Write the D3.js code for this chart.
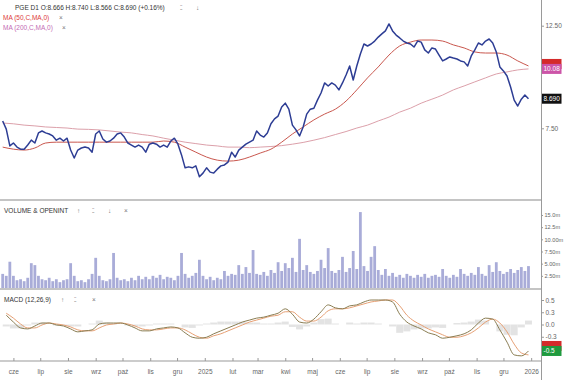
<!DOCTYPE html>
<html><head><meta charset="utf-8">
<script src="https://cdn.jsdelivr.net/npm/d3@7"></script>
<style>
html,body{margin:0;padding:0;background:#fff;}
svg{display:block;font-family:"Liberation Sans",Arial,sans-serif;}
</style></head><body>
<svg id="c" width="564" height="380"></svg>
<script>
// ---------- data ----------
const priceStart = "2024-05-20", priceStepDays = 4;
const priceClose = [7.78,7.47,6.87,6.97,6.83,6.76,6.76,6.90,7.07,6.97,
7.33,7.40,7.33,7.29,7.22,7.07,7.14,7.04,7.14,6.73,
6.47,6.73,6.80,6.83,6.80,6.66,7.29,7.40,7.11,7.00,
7.04,7.14,7.29,7.33,7.18,6.97,6.90,6.83,6.90,6.83,
6.66,6.93,6.97,6.93,6.83,6.90,6.83,7.04,7.14,6.93,
6.57,6.16,6.19,6.16,6.22,5.89,6.00,6.16,6.03,6.00,
6.12,6.22,6.25,6.34,6.66,6.50,6.73,6.83,6.93,7.00,
7.07,7.40,7.25,7.18,7.33,7.67,7.86,7.97,8.34,8.50,
8.25,7.62,7.44,7.22,7.55,8.05,8.25,8.29,8.63,8.94,
9.40,9.26,9.40,9.30,9.08,9.40,9.78,10.23,9.54,10.23,
10.86,11.41,11.30,11.41,11.58,11.81,12.00,12.18,12.61,12.18,
11.93,11.76,11.58,11.47,11.41,11.24,11.58,11.52,11.08,10.91,
11.19,11.13,10.80,10.49,10.59,10.70,10.64,10.59,10.49,10.44,
10.23,10.75,11.08,11.47,11.36,11.58,11.70,11.47,10.97,10.18,
9.98,9.73,9.21,8.63,8.38,8.67,8.85,8.69];
const volume = [2.9,2.5,5.4,2.5,1.6,1.8,1.4,2.1,5.1,4.7,
2.5,1.8,1.6,2.1,1.4,1.8,1.2,1.6,1.8,5.1,
2.5,1.4,1.6,1.2,1.8,2.9,6.2,2.5,1.6,1.4,
1.8,7.2,2.1,1.6,1.8,1.4,2.1,1.6,2.5,1.8,
2.3,1.8,2.5,2.1,2.7,1.8,2.3,2.1,1.6,2.5,
7.2,2.9,2.1,2.5,3.1,5.8,2.5,1.8,2.3,1.6,
2.1,1.8,3.5,2.5,2.9,2.7,4.7,2.9,4.3,3.1,
7.8,2.9,2.7,3.3,2.5,3.7,3.1,5.3,3.5,5.1,
4.1,6.2,3.3,10.1,3.7,4.7,3.3,2.9,3.5,5.8,
4.1,8.2,3.5,3.1,3.7,6.4,3.3,4.1,7.6,3.9,
15.6,4.5,3.5,6.4,8.6,3.7,2.7,3.9,2.5,3.1,
2.3,2.7,2.1,2.9,2.5,2.1,2.7,2.3,2.9,2.1,
2.5,2.7,2.3,3.9,2.5,2.1,2.7,2.3,3.9,2.9,
2.5,3.1,2.7,4.3,2.9,2.5,4.7,3.3,5.3,3.5,
2.9,3.3,3.9,3.1,3.7,4.3,3.5,4.5];
const maStart = "2024-05-20", maStepDays = 12;
const ma50 = [6.83,6.76,6.73,6.80,6.97,7.00,7.00,7.00,7.00,7.00,
7.00,7.00,7.00,7.00,7.00,7.04,7.00,6.83,6.66,6.50,
6.40,6.37,6.40,6.50,6.63,6.76,7.00,7.29,7.55,7.82,
8.05,8.25,8.59,9.08,9.64,10.18,10.80,11.30,11.52,11.64,
11.64,11.58,11.36,11.19,10.97,10.91,10.91,10.80,10.49,10.23];
const ma200 = [7.70,7.67,7.62,7.59,7.55,7.53,7.51,7.47,7.46,7.44,
7.40,7.36,7.33,7.27,7.22,7.14,7.07,7.00,6.95,6.90,
6.87,6.83,6.83,6.81,6.83,6.85,6.88,6.93,6.99,7.07,
7.16,7.27,7.38,7.51,7.62,7.78,7.93,8.13,8.29,8.50,
8.67,8.85,9.08,9.26,9.45,9.64,9.83,9.93,10.03,10.08];
const macdStart = "2024-05-24", macdStepDays = 8;
const macdLine = [0.19,0.05,-0.07,-0.09,-0.03,0.03,0.03,-0.01,-0.03,-0.09,
-0.15,-0.13,-0.11,0.01,0.03,0.03,0.03,-0.01,-0.07,-0.13,
-0.13,-0.09,-0.07,-0.05,-0.07,-0.17,-0.26,-0.28,-0.26,-0.19,
-0.13,-0.07,-0.01,0.05,0.09,0.13,0.15,0.19,0.23,0.32,
0.21,0.05,0.03,0.11,0.26,0.40,0.34,0.32,0.38,0.40,
0.46,0.50,0.50,0.50,0.46,0.21,0.05,-0.03,-0.09,-0.17,
-0.21,-0.28,-0.26,-0.23,-0.19,-0.11,0.03,0.13,0.11,-0.11,
-0.36,-0.62,-0.64,-0.54];
const macdSignal = [0.23,0.13,0.01,-0.07,-0.07,-0.01,0.03,0.01,-0.01,-0.05,
-0.11,-0.13,-0.13,-0.07,-0.01,0.01,0.03,0.01,-0.03,-0.09,
-0.11,-0.11,-0.09,-0.07,-0.07,-0.11,-0.19,-0.26,-0.28,-0.23,
-0.19,-0.13,-0.07,-0.01,0.05,0.09,0.13,0.17,0.19,0.26,
0.26,0.15,0.07,0.07,0.15,0.28,0.32,0.32,0.34,0.38,
0.42,0.46,0.48,0.50,0.50,0.38,0.19,0.07,-0.01,-0.09,
-0.15,-0.21,-0.26,-0.26,-0.23,-0.17,-0.07,0.05,0.11,0.03,
-0.15,-0.40,-0.58,-0.62];
const priceTicks = [7.5, 12.5];
const volumeTicks = [2.5, 5, 7.5, 10, 12.5, 15];
const volumeTickLabels = ["2.50m","5.00m","7.50m","10.00m","12.5m","15.0m"];
const macdTicks = [-0.25, 0, 0.25, 0.5];
const monthTicks = ["2024-06-01","2024-07-01","2024-08-01","2024-09-01","2024-10-01","2024-11-01","2024-12-01",
"2025-01-01","2025-02-01","2025-03-01","2025-04-01","2025-05-01","2025-06-01","2025-07-01","2025-08-01",
"2025-09-01","2025-10-01","2025-11-01","2025-12-01","2026-01-01"];
const monthLabels = ["cze","lip","sie","wrz","paź","lis","gru","2025","lut","mar","kwi","maj","cze","lip","sie","wrz","paź","lis","gru","2026"];
const ohlc = {O:8.666, H:8.740, L:8.566, chg:0.16};

// ---------- setup ----------
const plotR = 541;
const parse = d3.utcParse("%Y-%m-%d");
const grid = (start, step, n) => d3.range(n).map(i => d3.utcDay.offset(parse(start), i * step));
const pDates = grid(priceStart, priceStepDays, priceClose.length);
const mDates = grid(maStart, maStepDays, ma50.length);
const cDates = grid(macdStart, macdStepDays, macdLine.length);

const x = d3.scaleUtc().domain([parse("2024-05-17"), parse("2026-01-12")]).range([0, plotR]);
const yP = d3.scaleLog().domain([7.5, 12.5]).range([128.3, 25.7]);
const yV = d3.scaleLinear().domain([0, 15]).range([288, 215]);
const yM = d3.scaleLinear().domain([-0.5, 0.5]).range([349, 300]);

const svg = d3.select("#c");
const defs = svg.append("defs");
function clip(id, x0, y0, w, h){ defs.append("clipPath").attr("id", id).append("rect").attr("x",x0).attr("y",y0).attr("width",w).attr("height",h); }
clip("cMain", 0, 0, plotR, 199); clip("cVol", 0, 202, plotR, 86); clip("cMacd", 0, 290, plotR, 70); clip("cX", 0, 350, plotR, 30);

const FS = 6.5, axCol = "#666";

// separators and axis line
svg.append("line").attr("x1",0).attr("x2",plotR).attr("y1",200).attr("y2",200).attr("stroke","#c4c4c4").attr("stroke-width",2);
svg.append("line").attr("x1",0).attr("x2",plotR).attr("y1",289).attr("y2",289).attr("stroke","#c4c4c4").attr("stroke-width",2);
svg.append("line").attr("x1",plotR+0.5).attr("x2",plotR+0.5).attr("y1",0).attr("y2",380).attr("stroke","#9a9a9a").attr("stroke-width",1);

// ---------- main panel ----------
const gMain = svg.append("g").attr("clip-path","url(#cMain)");
const lineP = d3.line().x((d,i)=>x(pDates[i])).y(d=>yP(d));
const lineM = d3.line().x((d,i)=>x(mDates[i])).y(d=>yP(d)).curve(d3.curveMonotoneX);
gMain.append("path").datum(ma200).attr("d",lineM).attr("fill","none").attr("stroke","#dca0aa").attr("stroke-width",1);
gMain.append("path").datum(ma50).attr("d",lineM).attr("fill","none").attr("stroke","#c9574e").attr("stroke-width",1);
gMain.append("path").datum(priceClose).attr("d",lineP).attr("fill","none").attr("stroke","#2d3d94").attr("stroke-width",1.5).attr("stroke-linejoin","round");

function rightAxis(scale, ticks, fmt, fs, ts){
  const g = svg.append("g").attr("transform",`translate(${plotR},0)`)
    .call(d3.axisRight(scale).tickValues(ticks).tickSize(ts || 3).tickPadding(1.5).tickFormat(fmt));
  g.select(".domain").remove();
  g.selectAll("line").attr("stroke","#999");
  g.selectAll("text").attr("font-size",fs || FS).attr("fill",axCol).attr("font-family","Liberation Sans, Arial");
  return g;
}
rightAxis(yP, priceTicks, d3.format(".2f"));

function valueBox(y, col, txt){
  svg.append("rect").attr("x",plotR+1).attr("y",y-5).attr("width",19.5).attr("height",10).attr("fill",col);
  if (txt) svg.append("text").attr("x",plotR+2.5).attr("y",y+2.3).attr("font-size",FS).attr("fill","#fff").text(txt);
}
valueBox(yP(ma50[ma50.length-1]) - 2, "#d42a2a", "");
valueBox(yP(ma200[ma200.length-1]), "#cc55a8", d3.format(".2f")(ma200[ma200.length-1]));
const lastC = priceClose[priceClose.length-1];
valueBox(yP(lastC), "#111", d3.format(".3f")(lastC));

// header texts
const hdr = svg.append("g").attr("font-size",FS).attr("fill","#333");
hdr.append("text").attr("x",15).attr("y",9.5)
  .text(`PGE D1  O:${ohlc.O.toFixed(3)} H:${ohlc.H.toFixed(3)} L:${ohlc.L.toFixed(3)} C:${lastC.toFixed(3)} (+${ohlc.chg.toFixed(2)}%)`);
hdr.append("text").attr("x",180).attr("y",9.5).attr("fill","#777").text("⁚⁚");
hdr.append("text").attr("x",196).attr("y",9.5).attr("fill","#777").text("↓");
hdr.append("text").attr("x",3).attr("y",19.5).attr("fill","#dd3b3b").text("MA (50,C,MA,0)");
hdr.append("text").attr("x",59).attr("y",19.5).attr("fill","#777").text("×");
hdr.append("text").attr("x",3).attr("y",29.5).attr("fill","#c46bb4").text("MA (200,C,MA,0)");
hdr.append("text").attr("x",62).attr("y",29.5).attr("fill","#777").text("×");

// ---------- volume ----------
const gVol = svg.append("g").attr("clip-path","url(#cVol)");
gVol.selectAll("rect").data(volume).join("rect")
  .attr("x",(d,i)=>x(pDates[i])-1.4).attr("width",2.8)
  .attr("y",d=>yV(d)).attr("height",d=>yV.range()[0]-yV(d))
  .attr("fill","#a9acd8");
rightAxis(yV, volumeTicks, (d,i)=>volumeTickLabels[i], 5.6, 2);
hdr.append("text").attr("x",4).attr("y",212.5).text("VOLUME & OPENINT");
hdr.append("text").attr("x",77).attr("y",212.5).attr("fill","#777").text("↑");
hdr.append("text").attr("x",92).attr("y",212.5).attr("fill","#777").text("⁚⁚");
hdr.append("text").attr("x",108).attr("y",212.5).attr("fill","#777").text("↓");
hdr.append("text").attr("x",124).attr("y",212.5).attr("fill","#777").text("×");

// ---------- MACD ----------
const gM = svg.append("g").attr("clip-path","url(#cMacd)");
const hist = macdLine.map((d,i)=>d - macdSignal[i]);
gM.selectAll("rect").data(hist).join("rect")
  .attr("x",(d,i)=>x(cDates[i])-3.5).attr("width",7)
  .attr("y",d=>Math.min(yM(d),yM(0))).attr("height",d=>Math.abs(yM(d)-yM(0)))
  .attr("fill","#dcdcdc").attr("opacity",0.8);
const lineC = d3.line().x((d,i)=>x(cDates[i])).y(d=>yM(d)).curve(d3.curveMonotoneX);
gM.append("path").datum(macdSignal).attr("d",lineC).attr("fill","none").attr("stroke","#e7a074").attr("stroke-width",1);
gM.append("path").datum(macdLine).attr("d",lineC).attr("fill","none").attr("stroke","#8a7d52").attr("stroke-width",1);
rightAxis(yM, macdTicks, d=>d3.format(".1f")(d).replace("−","-"));
const lastM = macdLine[macdLine.length-1];
valueBox(yM(lastM) - 5, "#d42a2a", "");
valueBox(yM(lastM), "#1f9a3e", d3.format(".1f")(lastM).replace("−","-"));
hdr.append("text").attr("x",4).attr("y",301.5).text("MACD (12,26,9)");
hdr.append("text").attr("x",61).attr("y",301.5).attr("fill","#777").text("↑");
hdr.append("text").attr("x",74).attr("y",301.5).attr("fill","#777").text("⁚⁚");
hdr.append("text").attr("x",92).attr("y",301.5).attr("fill","#777").text("×");

// ---------- x axis ----------
svg.append("line").attr("x1",0).attr("x2",plotR).attr("y1",361).attr("y2",361).attr("stroke","#999");
const gxWrap = svg.append("g").attr("clip-path","url(#cX)");
const gx = gxWrap.append("g").attr("transform","translate(0,361)")
  .call(d3.axisBottom(x).tickValues(monthTicks.map(parse)).tickSizeInner(-3).tickSizeOuter(0).tickPadding(8)
    .tickFormat((d,i)=>monthLabels[i]));
gx.select(".domain").remove();
gx.selectAll("line").attr("stroke","#999");
gx.selectAll("text").attr("font-size",FS).attr("fill",axCol).attr("font-family","Liberation Sans, Arial");
</script>
</body></html>
